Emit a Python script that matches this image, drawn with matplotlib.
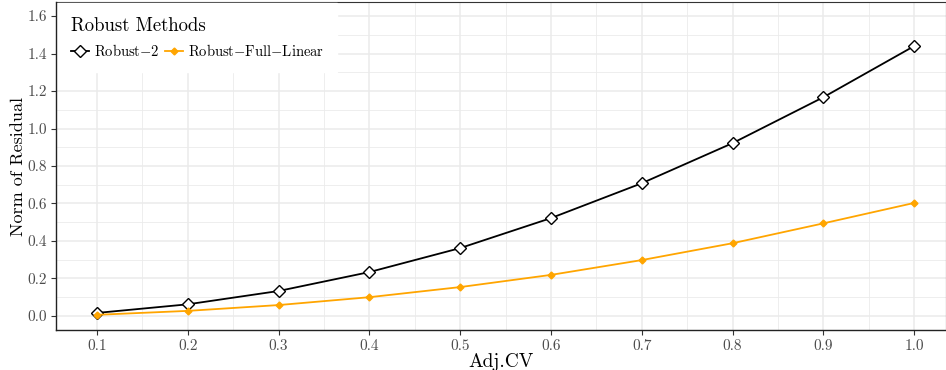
import matplotlib
matplotlib.use('Agg')
import matplotlib.pyplot as plt
from matplotlib.ticker import MultipleLocator

# data
adj_cv = [0.1, 0.2, 0.3, 0.4, 0.5, 0.6, 0.7, 0.8, 0.9, 1.0]
robust_2 = [0.016, 0.062, 0.133, 0.234, 0.362, 0.522, 0.708, 0.922, 1.167, 1.440]
robust_full_linear = [0.006, 0.027, 0.058, 0.100, 0.154, 0.219, 0.298, 0.388, 0.494, 0.603]
labels = [r'Robust$-$2', r'Robust$-$Full$-$Linear']

plt.rcParams['font.family'] = 'cmr10'
plt.rcParams['mathtext.fontset'] = 'cm'
plt.rcParams['axes.formatter.use_mathtext'] = True

fig = plt.figure(figsize=(9.46, 3.7), dpi=100)
ax = fig.add_axes([56/946, 40/370, 1 - 56/946, 328/370])

ax.plot(adj_cv, robust_2, color='black', lw=1.3, marker='D', ms=6.5,
        mfc='white', mec='black', mew=1.0, label=labels[0], zorder=3)
ax.plot(adj_cv, robust_full_linear, color='#FFA500', lw=1.3, marker='D', ms=3.5,
        mfc='#FFA500', mec='#FFA500', label=labels[1], zorder=3)

ax.set_xlim(0.055, 1.035)
ax.set_ylim(-0.075, 1.675)
ax.xaxis.set_minor_locator(MultipleLocator(0.05))
ax.yaxis.set_minor_locator(MultipleLocator(0.1))
ax.set_xticks(adj_cv)
ax.set_xticklabels(['%.1f' % v for v in adj_cv])
yt = [0.0, 0.2, 0.4, 0.6, 0.8, 1.0, 1.2, 1.4, 1.6]
ax.set_yticks(yt)
ax.set_yticklabels(['%.1f' % v for v in yt])

ax.grid(which='major', color='#EBEBEB', lw=1.1)
ax.grid(which='minor', color='#EBEBEB', lw=0.6)
ax.set_axisbelow(True)
ax.tick_params(which='major', length=3.5, color='#333333', labelcolor='#4D4D4D',
               labelsize=11, pad=3)
ax.tick_params(which='minor', length=0)
for s in ['top', 'right']:
    ax.spines[s].set_color('#333333')
    ax.spines[s].set_linewidth(0.8)
for s in ['left', 'bottom']:
    ax.spines[s].set_color('#222222')
    ax.spines[s].set_linewidth(1.0)
    ax.spines[s].set_zorder(6)

ax.set_xlabel('Adj.CV', fontsize=14, labelpad=0)
ax.set_ylabel('Norm of Residual', fontsize=13, labelpad=1)

leg = ax.legend(loc='upper left', ncol=2, title='Robust Methods', fontsize=10.5,
                title_fontsize=13.5, frameon=True, fancybox=False, framealpha=1,
                edgecolor='white', handlelength=1.25, handletextpad=0.35,
                columnspacing=0.35, borderaxespad=0.1, borderpad=0.9,
                labelspacing=0.3)
leg._legend_box.align = 'left'
leg._legend_box.sep = 6

fig.savefig('out.png', dpi=100)
